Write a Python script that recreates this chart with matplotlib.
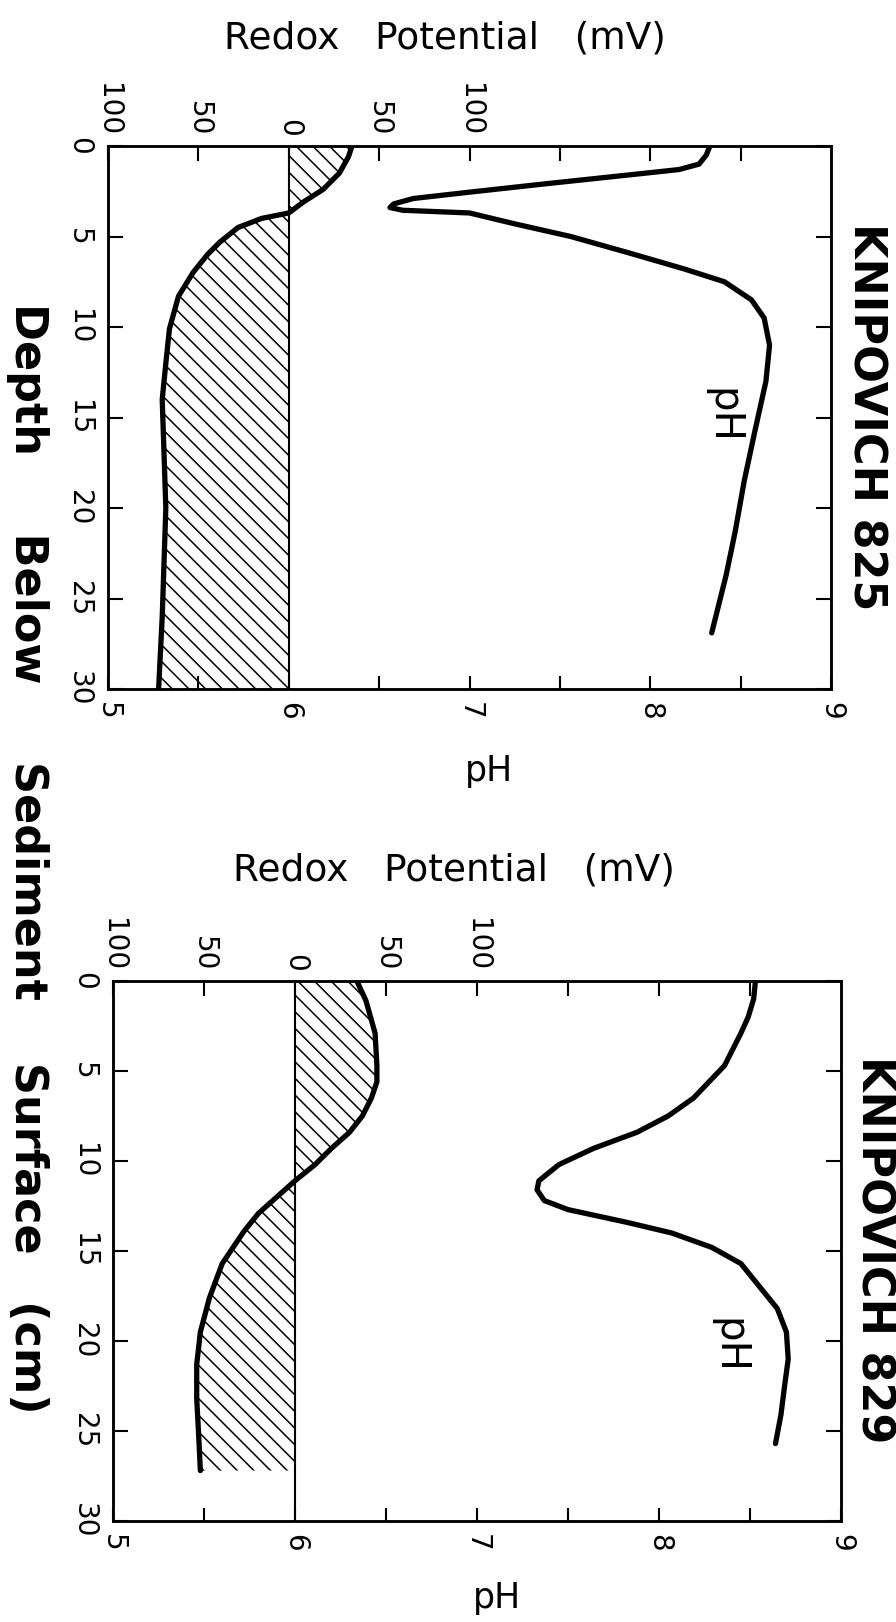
import matplotlib
matplotlib.use("Agg")
import matplotlib.pyplot as plt

plt.rcParams["font.family"] = ["DejaVu Sans"]
plt.rcParams["hatch.linewidth"] = 1.1

# KNIPOVICH 825 - pH profile
depth_825_ph = [0, 0.5, 1.0, 1.3, 1.6, 2.1, 2.55, 2.9, 3.2, 3.4, 3.55, 3.7,
                4.3, 5.0, 5.9, 6.8, 7.5, 8.5, 9.5, 11, 13, 15.7, 18.5, 21.3,
                23.7, 26.9]
ph_825 = [8.33, 8.31, 8.27, 8.16, 7.88, 7.41, 7.0, 6.69, 6.58, 6.56, 6.63, 7.0,
          7.25, 7.56, 7.88, 8.19, 8.41, 8.56, 8.63, 8.66, 8.64, 8.58, 8.52, 8.47,
          8.42, 8.34]
# KNIPOVICH 825 - redox potential (mV)
depth_825_eh = [0, 0.6, 1.5, 2.4, 3.1, 3.7, 4.0, 4.5, 5.3, 6.0, 7.0, 8.3,
                10.1, 12, 14, 17, 20, 23, 26, 30]
eh_825 = [35, 33, 28, 19, 8, 0, -15, -28, -38, -45, -53, -61,
          -66, -68, -70, -69, -68, -69, -70, -72]

# KNIPOVICH 829 - pH profile
depth_829_ph = [0, 1.0, 2.0, 2.9, 4.7, 6.5, 7.5, 8.4, 9.3, 10.2, 11.1, 11.6,
                12.2, 12.7, 13.4, 14.0, 14.8, 15.7, 17.2, 18.2, 19.5, 21.0,
                22.5, 24.1, 25.7]
ph_829 = [8.53, 8.52, 8.49, 8.45, 8.36, 8.19, 8.05, 7.88, 7.64, 7.45, 7.34, 7.33,
          7.37, 7.50, 7.82, 8.07, 8.29, 8.45, 8.57, 8.65, 8.70, 8.71,
          8.69, 8.67, 8.64]
# KNIPOVICH 829 - redox potential (mV)
depth_829_eh = [0, 1.1, 2.9, 4.7, 5.6, 6.5, 7.5, 8.4, 9.3, 10.2, 11.1, 12.0,
                12.9, 13.9, 15.7, 17.6, 19.5, 21.3, 23.2, 25.1, 27.2]
eh_829 = [34, 39, 44, 45, 45, 42, 37, 30, 20, 11, 0, -10,
          -20, -28, -40, -47, -52, -54, -54, -53, -52]

stations = ["KNIPOVICH 825", "KNIPOVICH 829"]
ph_ticks = [5, 6, 7, 8, 9]
ph_minor = [5.5, 6.5, 7.5, 8.5]
depth_ticks = [0, 5, 10, 15, 20, 25, 30]
eh_ticks = [-100, -50, 0, 50, 100]
eh_labels = ["100", "50", "0", "50", "100"]
eh_minor = [150, 200, 250]

W, H = 896, 1622
fig = plt.figure(figsize=(W / 100, H / 100), dpi=100)


def px_rect(x0, y0, x1, y1):
    return [x0 / W, 1 - y1 / H, (x1 - x0) / W, (y1 - y0) / H]


panels = [
    dict(rect=px_rect(108, 146, 831, 689), name=stations[0],
         d_ph=depth_825_ph, ph=ph_825, d_eh=depth_825_eh, eh=eh_825,
         title_xy=(866, 417), redox_xy=(445, 38), phlab_y=781, inner=(8.40, 14.9)),
    dict(rect=px_rect(113, 981, 841, 1521), name=stations[1],
         d_ph=depth_829_ph, ph=ph_829, d_eh=depth_829_eh, eh=eh_829,
         title_xy=(874, 1250), redox_xy=(454, 870), phlab_y=1608, inner=(8.38, 20.3)),
]

for p in panels:
    ax = fig.add_axes(p["rect"])
    ax.set_xlim(5, 9)
    ax.set_ylim(30, 0)
    ax.set_xticks(ph_ticks)
    ax.set_xticks(ph_minor, minor=True)
    ax.set_yticks(depth_ticks)
    ax.tick_params(axis="x", which="both", direction="in", length=9.5, width=1.5,
                   labelsize=20, pad=9, labelrotation=-90)
    ax.tick_params(axis="y", which="both", direction="in", length=11, width=1.5,
                   left=True, right=True, labelsize=20, pad=11, labelrotation=-90)
    for lab in ax.get_yticklabels():
        lab.set_va("center")
    for s in ax.spines.values():
        s.set_linewidth(1.8)

    ax.plot(p["ph"], p["d_ph"], color="black", lw=3.8, solid_capstyle="round",
            solid_joinstyle="round")

    ax2 = ax.twiny()
    ax2.set_xlim(-100, 300)
    ax2.set_xticks(eh_ticks)
    ax2.set_xticklabels(eh_labels)
    ax2.set_xticks(eh_minor, minor=True)
    ax2.tick_params(axis="x", which="both", direction="in", length=11, width=1.5,
                    labelsize=20, pad=7, labelrotation=-90)
    for s in ax2.spines.values():
        s.set_linewidth(1.8)

    ax2.fill_betweenx(p["d_eh"], 0, p["eh"], facecolor="none", edgecolor="black",
                      hatch="\\\\", linewidth=0)
    ax2.axvline(0, color="black", lw=1.5)
    ax2.plot(p["eh"], p["d_eh"], color="black", lw=3.8, solid_capstyle="round",
             solid_joinstyle="round")

    ax.text(p["inner"][0], p["inner"][1], "pH", rotation=-90, ha="center",
            va="center", fontsize=29)

    fig.text(p["title_xy"][0] / W, 1 - p["title_xy"][1] / H, p["name"],
             rotation=-90, ha="center", va="center", fontsize=32, fontweight="bold")
    fig.text(p["redox_xy"][0] / W, 1 - p["redox_xy"][1] / H, "Redox   Potential   (mV)",
             ha="center", va="center", fontsize=27)
    # pH axis label under the panel, placed in figure pixels
    fig.text(p["rect"][0] + p["rect"][2] * 2.11 / 4, 1 - p["phlab_y"] / H, "pH",
             fontsize=25, ha="center", va="baseline")

fig.text(27 / W, 1 - 858 / H,
         "Depth     Below     Sediment    Surface   (cm)",
         rotation=-90, ha="center", va="center", fontsize=32, fontweight="bold")

fig.savefig("out.png", dpi=100, facecolor="white")
